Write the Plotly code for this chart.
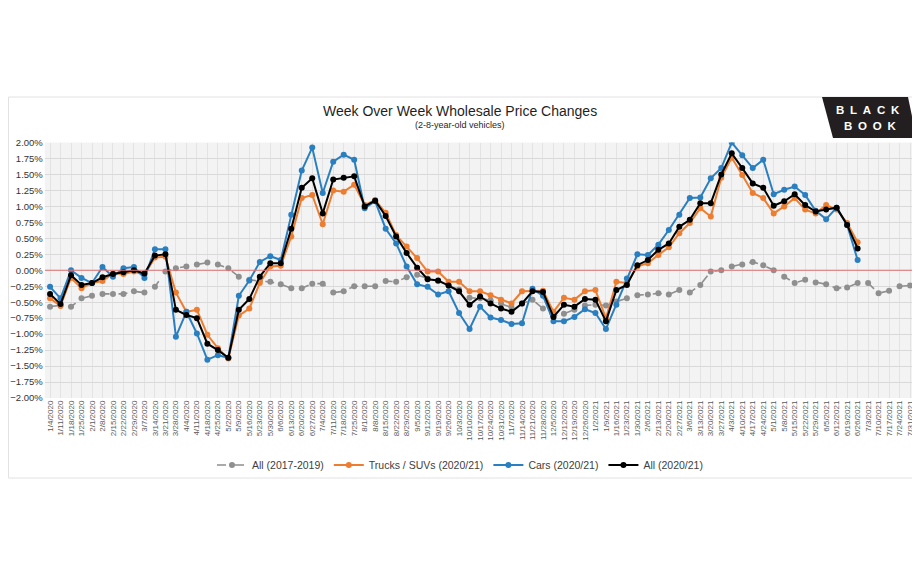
import plotly.graph_objects as go

weeks = [
    "1/4/2020", "1/11/2020", "1/18/2020", "1/25/2020", "2/1/2020", "2/8/2020", "2/15/2020", "2/22/2020",
    "2/29/2020", "3/7/2020", "3/14/2020", "3/21/2020", "3/28/2020", "4/4/2020", "4/11/2020", "4/18/2020",
    "4/25/2020", "5/2/2020", "5/9/2020", "5/16/2020", "5/23/2020", "5/30/2020", "6/6/2020", "6/13/2020",
    "6/20/2020", "6/27/2020", "7/4/2020", "7/11/2020", "7/18/2020", "7/25/2020", "8/1/2020", "8/8/2020",
    "8/15/2020", "8/22/2020", "8/29/2020", "9/5/2020", "9/12/2020", "9/19/2020", "9/26/2020", "10/3/2020",
    "10/10/2020", "10/17/2020", "10/24/2020", "10/31/2020", "11/7/2020", "11/14/2020", "11/21/2020",
    "11/28/2020", "12/5/2020", "12/12/2020", "12/19/2020", "12/26/2020",
    "1/2/2021", "1/9/2021", "1/16/2021", "1/23/2021", "1/30/2021", "2/6/2021", "2/13/2021", "2/20/2021",
    "2/27/2021", "3/6/2021", "3/13/2021", "3/20/2021", "3/27/2021", "4/3/2021", "4/10/2021", "4/17/2021",
    "4/24/2021", "5/1/2021", "5/8/2021", "5/15/2021", "5/22/2021", "5/29/2021", "6/5/2021", "6/12/2021",
    "6/19/2021", "6/26/2021", "7/3/2021", "7/10/2021", "7/17/2021", "7/24/2021", "7/31/2021",
]

all_2017_2019 = [
    -0.57, -0.55, -0.57, -0.44, -0.40, -0.37, -0.37, -0.37, -0.33, -0.35, -0.26, -0.02, 0.03, 0.06, 0.09, 0.12,
    0.09, 0.03, -0.10, -0.15, -0.17, -0.18, -0.22, -0.28, -0.28, -0.21, -0.21, -0.35, -0.33, -0.25, -0.25, -0.25,
    -0.17, -0.18, -0.11, -0.07, -0.13, -0.17, -0.24, -0.30, -0.43, -0.44, -0.47, -0.52, -0.58, -0.52, -0.46,
    -0.60, -0.72, -0.68, -0.62, -0.55,
    -0.54, -0.55, -0.49, -0.44, -0.39, -0.38, -0.36, -0.38, -0.31, -0.35, -0.23, -0.02, 0.00, 0.06, 0.09, 0.13,
    0.08, 0.00, -0.10, -0.20, -0.15, -0.19, -0.22, -0.28, -0.27, -0.20, -0.20, -0.36, -0.32, -0.25, -0.24,
]

trucks_suvs = [
    -0.44, -0.56, -0.12, -0.28, -0.20, -0.17, -0.05, -0.06, -0.02, -0.07, 0.20, 0.21, -0.35, -0.65, -0.62, -1.01,
    -1.22, -1.38, -0.71, -0.60, -0.20, 0.06, 0.07, 0.53, 1.13, 1.18, 0.72, 1.25, 1.23, 1.34, 1.02, 1.10,
    0.90, 0.55, 0.37, 0.19, -0.02, -0.02, -0.18, -0.18, -0.33, -0.33, -0.39, -0.46, -0.52, -0.33, -0.32,
    -0.32, -0.65, -0.43, -0.46, -0.33,
    -0.31, -0.75, -0.18, -0.20, 0.06, 0.11, 0.24, 0.36, 0.58, 0.74, 0.97, 0.84, 1.45, 1.76, 1.49, 1.21,
    1.13, 0.89, 1.00, 1.13, 0.95, 0.89, 1.02, 0.95, 0.74, 0.44, None, None, None, None, None,
]

cars = [
    -0.26, -0.44, 0.00, -0.12, -0.20, 0.05, -0.10, 0.03, 0.05, -0.12, 0.33, 0.33, -1.04, -0.65, -0.99, -1.40,
    -1.33, -1.37, -0.40, -0.16, 0.13, 0.22, 0.16, 0.87, 1.56, 1.92, 1.21, 1.70, 1.81, 1.73, 0.97, 1.08,
    0.65, 0.42, 0.06, -0.22, -0.26, -0.38, -0.33, -0.67, -0.92, -0.57, -0.74, -0.78, -0.84, -0.83, -0.29,
    -0.40, -0.80, -0.80, -0.73, -0.61,
    -0.67, -0.92, -0.54, -0.13, 0.25, 0.24, 0.40, 0.63, 0.87, 1.13, 1.14, 1.44, 1.60, 2.00, 1.80, 1.60,
    1.73, 1.19, 1.26, 1.31, 1.18, 0.93, 0.80, 0.98, 0.71, 0.16, None, None, None, None, None,
]

all_2020_21 = [
    -0.37, -0.53, -0.08, -0.23, -0.20, -0.11, -0.06, -0.03, 0.00, -0.05, 0.23, 0.25, -0.62, -0.70, -0.75, -1.15,
    -1.25, -1.37, -0.62, -0.45, -0.10, 0.11, 0.11, 0.65, 1.29, 1.44, 0.89, 1.42, 1.45, 1.47, 1.00, 1.09,
    0.85, 0.53, 0.27, 0.04, -0.14, -0.16, -0.24, -0.33, -0.54, -0.41, -0.52, -0.60, -0.65, -0.52, -0.33,
    -0.34, -0.73, -0.54, -0.57, -0.45,
    -0.46, -0.80, -0.31, -0.23, 0.08, 0.16, 0.32, 0.42, 0.68, 0.79, 1.05, 1.05, 1.50, 1.83, 1.60, 1.36,
    1.29, 1.01, 1.08, 1.19, 1.02, 0.92, 0.95, 0.98, 0.71, 0.34, None, None, None, None, None,
]

series = [
    ("All (2017-2019)", all_2017_2019, "#8f8f8f", "dash", 1.6),
    ("Trucks / SUVs (2020/21)", trucks_suvs, "#ed7d31", "solid", 2),
    ("Cars (2020/21)", cars, "#2a7fc0", "solid", 2),
    ("All (2020/21)", all_2020_21, "#000000", "solid", 2),
]

# the page body has an 8px margin, so the figure is offset by (8, 8) in the window
OFF = 8
W, H = 920 - OFF, 575 - OFF
FONT = "Liberation Sans, Arial, sans-serif"

fig = go.Figure()
for name, vals, color, dash, width in series:
    fig.add_trace(go.Scatter(
        x=weeks, y=vals, name=name, mode="lines+markers",
        line=dict(color=color, width=width, dash=dash),
        marker=dict(color=color, size=6),
        connectgaps=False,
    ))

def px(x):
    return (x - OFF) / W

def py(y):
    return 1 - (y - OFF) / H

shapes = [
    dict(type="rect", xref="paper", yref="paper", x0=px(8.5), x1=px(916), y0=py(478), y1=py(97),
         line=dict(color="#e2e2e2", width=1), fillcolor="rgba(0,0,0,0)", layer="below"),
    dict(type="path", xref="paper", yref="paper",
         path=f"M {px(822)} {py(97)} L {px(908)} {py(97)} L {px(916.5)} {py(138)} L {px(833)} {py(138)} Z",
         fillcolor="#231f20", line=dict(width=0)),
    dict(type="line", xref="paper", yref="y", x0=px(45), x1=px(915), y0=0, y1=0,
         line=dict(color="#e07272", width=1.2)),
]

annotations = [
    dict(text="Week Over Week Wholesale Price Changes", x=px(460), y=py(111), xref="paper", yref="paper",
         showarrow=False, font=dict(family=FONT, size=14, color="#1f1f1f"), xanchor="center", yanchor="middle"),
    dict(text="(2-8-year-old vehicles)", x=px(460), y=py(125), xref="paper", yref="paper",
         showarrow=False, font=dict(family=FONT, size=9, color="#262626"), xanchor="center", yanchor="middle"),
    dict(text="<b>B\u2002L\u2002A\u2002C\u2002K</b>", x=px(868), y=py(110.5), xref="paper", yref="paper",
         showarrow=False, font=dict(family=FONT, size=11.5, color="#ffffff"), xanchor="center", yanchor="middle"),
    dict(text="<b>B\u2002O\u2002O\u2002K</b>", x=px(870), y=py(126), xref="paper", yref="paper",
         showarrow=False, font=dict(family=FONT, size=11.5, color="#ffffff"), xanchor="center", yanchor="middle"),
]

fig.update_layout(
    width=W, height=H,
    margin=dict(l=0, r=0, t=0, b=0, autoexpand=False),
    paper_bgcolor="#ffffff",
    plot_bgcolor="#f3f3f3",
    font=dict(family=FONT, color="#404040"),
    showlegend=True,
    legend=dict(orientation="h", x=px(460), xanchor="center", xref="paper",
                y=py(465), yanchor="middle", yref="paper",
                font=dict(family=FONT, size=10.5, color="#404040"),
                bgcolor="rgba(0,0,0,0)", itemwidth=30),
    shapes=shapes,
    annotations=annotations,
    xaxis=dict(
        domain=[px(44.8), px(915.3)], type="category", automargin=False,
        tickangle=-90, tickfont=dict(family=FONT, size=8, color="#595959"),
        showgrid=True, gridcolor="#e3e3e3", gridwidth=1,
        showline=False, zeroline=False, ticks="", range=[-0.5, len(weeks) - 0.5],
    ),
    yaxis=dict(
        domain=[py(398), py(142.5)], automargin=False,
        range=[-2.0, 2.0], dtick=0.25, tick0=0, tickformat=".2f", ticksuffix="%",
        tickfont=dict(family=FONT, size=9.5, color="#333333"), ticklabelstandoff=1,
        showgrid=True, gridcolor="#d9d9d9", gridwidth=1,
        zeroline=False, showline=False, ticks="",
    ),
)

fig.write_html("out.html")
